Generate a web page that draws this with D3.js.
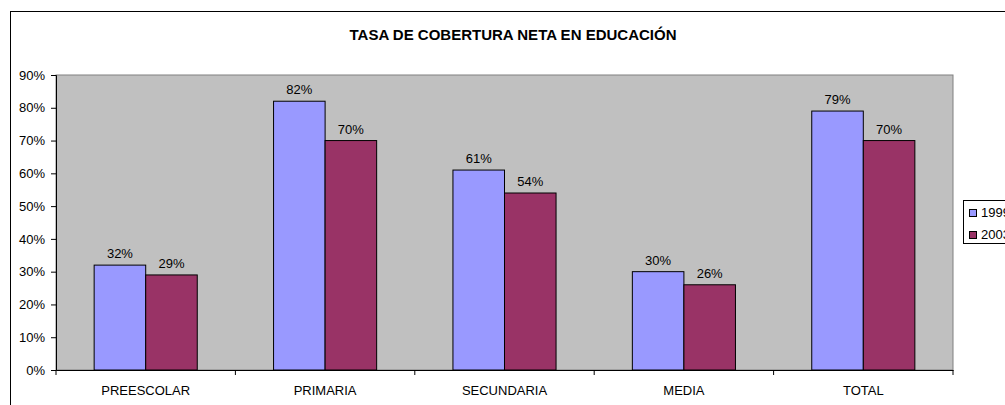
<!DOCTYPE html>
<html>
<head>
<meta charset="utf-8">
<script src="https://cdn.jsdelivr.net/npm/d3@7"></script>
<style>
  body { margin: 0; background: #fff; }
  text { font-family: "Liberation Sans", Arial, sans-serif; fill: #000; }
</style>
</head>
<body>
<script>
// tasa de cobertura neta, por nivel
const categories = ["PREESCOLAR", "PRIMARIA", "SECUNDARIA", "MEDIA", "TOTAL"];
const seriesNames = ["1999", "2003"];
const values1999 = [32, 82, 61, 30, 79];
const values2003 = [29, 70, 54, 26, 70];
const yTicks = [0, 10, 20, 30, 40, 50, 60, 70, 80, 90];
const colors = ["#9999FF", "#993366"];

const w = 1005, h = 405;
const plot = { left: 56, top: 75, right: 953, bottom: 370 };
const fs = "13px";

const svg = d3.select("body").append("svg")
    .attr("width", w)
    .attr("height", h);

// outer chart frame (runs off the right and bottom)
svg.append("rect")
    .attr("x", 10.5).attr("y", 11.5)
    .attr("width", 1010).attr("height", 410)
    .attr("fill", "#fff")
    .attr("stroke", "#000");

svg.append("text")
    .attr("x", 513).attr("y", 40)
    .attr("text-anchor", "middle")
    .style("font-size", "15px")
    .style("font-weight", "bold")
    .text("TASA DE COBERTURA NETA EN EDUCACIÓN");

const x0 = d3.scaleBand()
    .domain(categories)
    .range([plot.left, plot.right])
    .paddingInner(0)
    .paddingOuter(0);

const x1 = d3.scaleBand()
    .domain(seriesNames)
    .range([0, x0.bandwidth()])
    .paddingOuter(0.74)
    .paddingInner(0);

const y = d3.scaleLinear()
    .domain([0, 90])
    .range([plot.bottom, plot.top]);

// grey plot area
svg.append("rect")
    .attr("x", plot.left).attr("y", plot.top)
    .attr("width", plot.right - plot.left)
    .attr("height", plot.bottom - plot.top)
    .attr("fill", "#C0C0C0")
    .attr("stroke", "#808080");

const rows = categories.map((c, i) => ({ cat: c, vals: [values1999[i], values2003[i]] }));

const groups = svg.selectAll("g.cat")
    .data(rows)
    .enter()
    .append("g")
    .attr("class", "cat")
    .attr("transform", d => `translate(${x0(d.cat)},0)`);

groups.selectAll("rect")
    .data(d => d.vals.map((v, j) => ({ s: seriesNames[j], v: v, j: j })))
    .enter()
    .append("rect")
    .attr("x", d => x1(d.s))
    .attr("y", d => y(d.v))
    .attr("width", x1.bandwidth())
    .attr("height", d => y(0) - y(d.v))
    .attr("fill", d => colors[d.j])
    .attr("stroke", "#000")
    .attr("stroke-width", 1);

groups.selectAll("text.lbl")
    .data(d => d.vals.map((v, j) => ({ s: seriesNames[j], v: v })))
    .enter()
    .append("text")
    .attr("class", "lbl")
    .attr("x", d => x1(d.s) + x1.bandwidth() / 2)
    .attr("y", d => y(d.v) - 7)
    .attr("text-anchor", "middle")
    .style("font-size", fs)
    .text(d => d.v + "%");

// axes
const yAxis = d3.axisLeft(y)
    .tickValues(yTicks)
    .tickSize(5)
    .tickPadding(6)
    .tickFormat(d => d + "%");

const gy = svg.append("g")
    .attr("transform", `translate(${plot.left},0)`)
    .call(yAxis);
gy.select(".domain").attr("stroke", "#000");
gy.selectAll("text").style("font-size", fs).style("font-family", "Liberation Sans, Arial, sans-serif");

const xAxis = d3.axisBottom(x0).tickSize(0).tickPadding(16);
const gx = svg.append("g")
    .attr("transform", `translate(0,${plot.bottom})`)
    .call(xAxis);
gx.select(".domain").attr("stroke", "#000");
gx.selectAll("text").style("font-size", fs).style("font-family", "Liberation Sans, Arial, sans-serif");

// category boundary ticks
gx.selectAll("line.sep")
    .data(categories.concat(["end"]))
    .enter()
    .append("line")
    .attr("class", "sep")
    .attr("x1", (d, i) => plot.left + i * x0.step())
    .attr("x2", (d, i) => plot.left + i * x0.step())
    .attr("y1", 0).attr("y2", 5)
    .attr("stroke", "#000");

// legend (clipped at right edge)
const lg = svg.append("g").attr("transform", "translate(963,200)");
lg.append("rect")
    .attr("x", 0.5).attr("y", 0.5)
    .attr("width", 60).attr("height", 43)
    .attr("fill", "#fff")
    .attr("stroke", "#000");
seriesNames.forEach((s, i) => {
    lg.append("rect")
        .attr("x", 6.5).attr("y", 9.5 + i * 22)
        .attr("width", 7).attr("height", 7)
        .attr("fill", colors[i])
        .attr("stroke", "#000");
    lg.append("text")
        .attr("x", 18).attr("y", 17 + i * 22)
        .style("font-size", fs)
        .text(s);
});
</script>
</body>
</html>
